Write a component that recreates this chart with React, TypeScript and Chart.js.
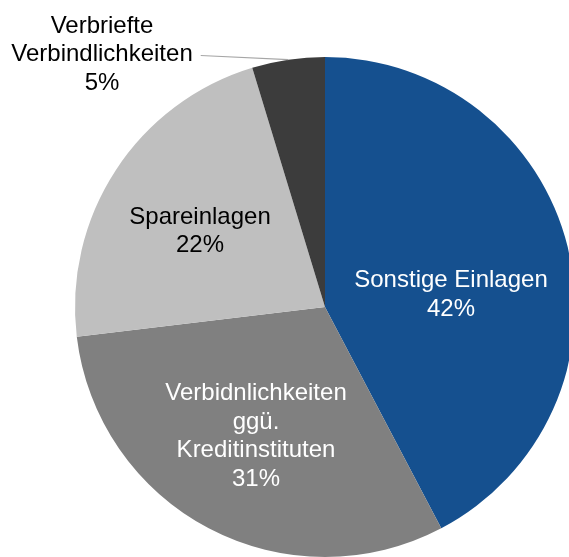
import React, { useEffect, useRef } from "react";
import { Chart, registerables } from "chart.js";

Chart.register(...registerables);

const categories: string[][] = [
  ["Sonstige Einlagen"],
  ["Verbidnlichkeiten", "ggü.", "Kreditinstituten"],
  ["Spareinlagen"],
  ["Verbriefte", "Verbindlichkeiten"],
];
const shares: number[] = [42.3, 30.8, 22.2, 4.7];
const sliceColors: string[] = ["#15508F", "#808080", "#BFBFBF", "#3C3C3C"];
const textColors: string[] = ["#FFFFFF", "#FFFFFF", "#000000", "#000000"];

// label block centres, as fractions of the pie radius from the pie centre
const labelAnchors: [number, number][] = [
  [0.504, -0.057],
  [-0.276, 0.51],
  [-0.5, -0.31],
  [-0.892, -1.018],
];
const outsideIndex = 3;

const FONT_SIZE = 24;
const LINE_H = 28.5;
const FONT = `${FONT_SIZE}px "Liberation Sans", Arial, sans-serif`;

const labelPlugin = {
  id: "pieLabels",
  afterDraw(chart: any) {
    const ctx = chart.ctx as CanvasRenderingContext2D;
    const meta = chart.getDatasetMeta(0);
    const arcs = meta.data as any[];
    if (!arcs.length) return;
    const cx = arcs[0].x;
    const cy = arcs[0].y;
    const R = arcs[0].outerRadius;
    ctx.save();
    ctx.font = FONT;
    ctx.textAlign = "center";
    ctx.textBaseline = "alphabetic";
    categories.forEach((lines, i) => {
      const all = [...lines, `${Math.round(shares[i])}%`];
      const ax = cx + labelAnchors[i][0] * R;
      const ay = cy + labelAnchors[i][1] * R;
      const n = all.length;
      const firstCenter = ay - ((n - 1) * LINE_H) / 2;
      ctx.fillStyle = textColors[i];
      all.forEach((t, k) => {
        const capCenter = firstCenter + k * LINE_H;
        ctx.fillText(t, ax, capCenter + 0.358 * FONT_SIZE);
      });
      if (i === outsideIndex) {
        // leader line from the right end of the middle line to the slice edge
        const arc = arcs[i];
        const mid = (arc.startAngle + arc.endAngle) / 2;
        const ex = cx + R * Math.cos(mid);
        const ey = cy + R * Math.sin(mid);
        const widest = ctx.measureText(lines[1]).width;
        const sx = ax + widest / 2 + 8;
        const sy = firstCenter + LINE_H + 3;
        ctx.strokeStyle = "#A6A6A6";
        ctx.lineWidth = 1.2;
        ctx.beginPath();
        ctx.moveTo(sx, sy);
        ctx.lineTo(ex, ey);
        ctx.stroke();
      }
    });
    ctx.restore();
  },
};

export default function App() {
  const ref = useRef<HTMLCanvasElement | null>(null);
  useEffect(() => {
    if (!ref.current) return;
    const chart = new Chart(ref.current, {
      type: "pie",
      data: {
        labels: categories.map((l) => l.join(" ")),
        datasets: [
          {
            data: shares,
            backgroundColor: sliceColors,
            borderWidth: 0,
          },
        ],
      },
      options: {
        animation: false,
        responsive: false,
        maintainAspectRatio: false,
        devicePixelRatio: 1,
        layout: { padding: { left: 75, right: 75, top: 57, bottom: 57 } },
        plugins: {
          legend: { display: false },
          tooltip: { enabled: false },
        },
        events: [],
      },
      plugins: [labelPlugin],
    });
    return () => chart.destroy();
  }, []);
  return (
    <div
      style={{
        position: "fixed",
        left: 0,
        top: 0,
        width: 569,
        height: 557,
        overflow: "hidden",
        background: "#FFFFFF",
      }}
    >
      <canvas ref={ref} width={650} height={614} style={{ display: "block" }} />
    </div>
  );
}
